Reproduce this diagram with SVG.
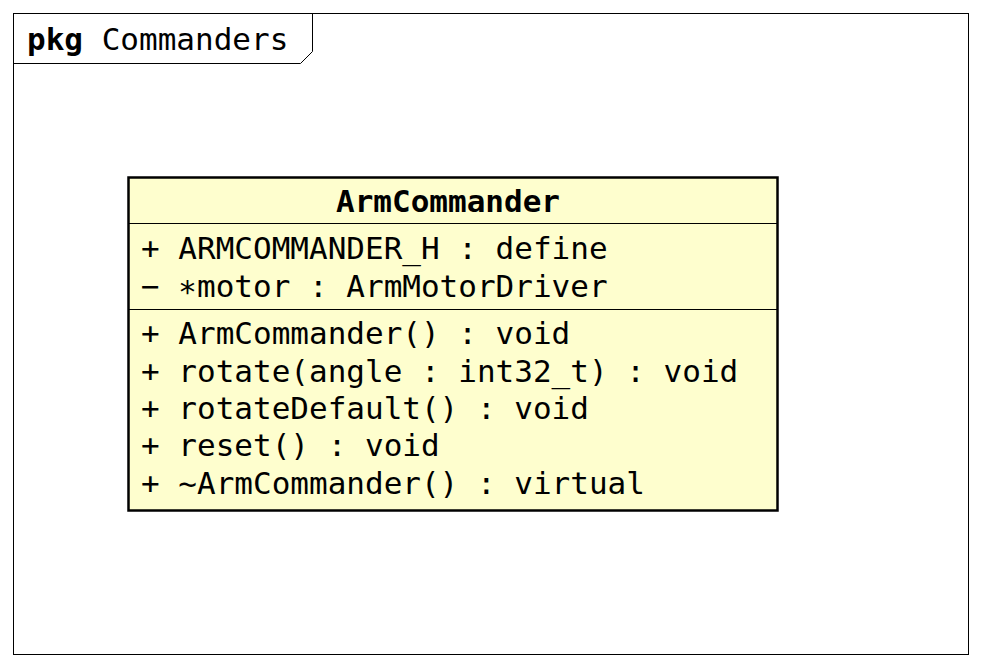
<svg xmlns="http://www.w3.org/2000/svg" width="981" height="666" viewBox="0 0 981 666">
<style>
text{font-family:"DejaVu Sans Mono","Liberation Mono",monospace;font-size:31px;fill:#000}
.b{font-weight:bold}
.frame{fill:none;stroke:#000;stroke-width:1}
.cls{fill:#FEFECE;stroke:#000;stroke-width:2.5}
.div{stroke:#000;stroke-width:1.2}
</style>
<rect width="981" height="666" fill="#fff"/>
<g id="pkg-Commanders">
<rect class="frame" x="13.5" y="13.5" width="955" height="641"/>
<path class="frame" d="M13.5,63.5 H300.5 L312.5,51.5 V13.5"/>
<text x="27" y="50"><tspan class="b">pkg</tspan> Commanders</text>
</g>
<g id="ArmCommander">
<rect class="cls" x="128.5" y="177.5" width="649" height="333"/>
<line class="div" x1="128.5" y1="223.5" x2="777.5" y2="223.5"/>
<line class="div" x1="128.5" y1="309.5" x2="777.5" y2="309.5"/>
<text class="b" x="448" y="212" text-anchor="middle">ArmCommander</text>
<text x="141" y="259">+ ARMCOMMANDER_H : define</text>
<text x="141" y="297">− ∗motor : ArmMotorDriver</text>
<text x="141" y="344">+ ArmCommander() : void</text>
<text x="141" y="382">+ rotate(angle : int32_t) : void</text>
<text x="141" y="419">+ rotateDefault() : void</text>
<text x="141" y="456">+ reset() : void</text>
<text x="141" y="494">+ ~ArmCommander() : virtual</text>
</g>
<g id="connectors"></g>
</svg>
